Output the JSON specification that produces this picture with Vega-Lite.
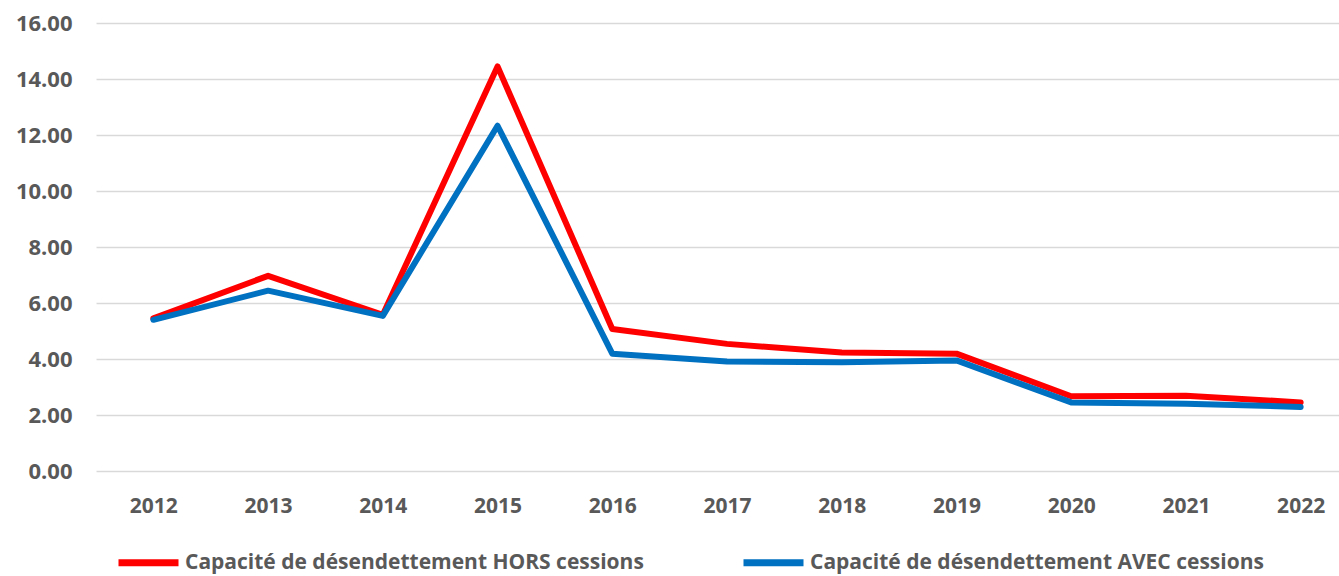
{
  "$schema": "https://vega.github.io/schema/vega-lite/v6.json",
  "autosize": "none",
  "padding": {"left": 96, "top": 23, "right": 0, "bottom": 105},
  "width": 1262,
  "height": 448,
  "background": "white",
  "config": {
    "view": {"stroke": null},
    "font": "Open Sans"
  },
  "data": {
    "values": [
      {"year": "2012", "serie": "Capacité de désendettement HORS cessions", "value": 5.45},
      {"year": "2013", "serie": "Capacité de désendettement HORS cessions", "value": 6.97},
      {"year": "2014", "serie": "Capacité de désendettement HORS cessions", "value": 5.58},
      {"year": "2015", "serie": "Capacité de désendettement HORS cessions", "value": 14.45},
      {"year": "2016", "serie": "Capacité de désendettement HORS cessions", "value": 5.07},
      {"year": "2017", "serie": "Capacité de désendettement HORS cessions", "value": 4.54},
      {"year": "2018", "serie": "Capacité de désendettement HORS cessions", "value": 4.23},
      {"year": "2019", "serie": "Capacité de désendettement HORS cessions", "value": 4.19},
      {"year": "2020", "serie": "Capacité de désendettement HORS cessions", "value": 2.67},
      {"year": "2021", "serie": "Capacité de désendettement HORS cessions", "value": 2.69},
      {"year": "2022", "serie": "Capacité de désendettement HORS cessions", "value": 2.45},
      {"year": "2012", "serie": "Capacité de désendettement AVEC cessions", "value": 5.4},
      {"year": "2013", "serie": "Capacité de désendettement AVEC cessions", "value": 6.44},
      {"year": "2014", "serie": "Capacité de désendettement AVEC cessions", "value": 5.54},
      {"year": "2015", "serie": "Capacité de désendettement AVEC cessions", "value": 12.33},
      {"year": "2016", "serie": "Capacité de désendettement AVEC cessions", "value": 4.19},
      {"year": "2017", "serie": "Capacité de désendettement AVEC cessions", "value": 3.91},
      {"year": "2018", "serie": "Capacité de désendettement AVEC cessions", "value": 3.88},
      {"year": "2019", "serie": "Capacité de désendettement AVEC cessions", "value": 3.95},
      {"year": "2020", "serie": "Capacité de désendettement AVEC cessions", "value": 2.45},
      {"year": "2021", "serie": "Capacité de désendettement AVEC cessions", "value": 2.4},
      {"year": "2022", "serie": "Capacité de désendettement AVEC cessions", "value": 2.29}
    ]
  },
  "mark": {"type": "line", "strokeWidth": 6, "strokeJoin": "round", "strokeCap": "round"},
  "encoding": {
    "x": {
      "field": "year",
      "type": "ordinal",
      "scale": {"type": "point", "padding": 0.5},
      "axis": {
        "title": null,
        "labelAngle": 0,
        "domain": false,
        "ticks": false,
        "grid": false,
        "labelFontSize": 21,
        "labelFontWeight": "bold",
        "labelColor": "#595959",
        "labelPadding": 24
      }
    },
    "y": {
      "field": "value",
      "type": "quantitative",
      "scale": {"domain": [0, 16], "nice": false},
      "axis": {
        "title": null,
        "values": [0, 2, 4, 6, 8, 10, 12, 14, 16],
        "format": ".2f",
        "domain": false,
        "ticks": false,
        "grid": true,
        "gridColor": "#D9D9D9",
        "gridWidth": 1.5,
        "labelFontSize": 22,
        "labelFontWeight": "bold",
        "labelColor": "#595959",
        "labelPadding": 24
      }
    },
    "color": {
      "field": "serie",
      "type": "nominal",
      "sort": ["Capacité de désendettement HORS cessions", "Capacité de désendettement AVEC cessions"],
      "scale": {
        "domain": ["Capacité de désendettement HORS cessions", "Capacité de désendettement AVEC cessions"],
        "range": ["#FF0000", "#0070C0"]
      },
      "legend": {
        "title": null,
        "orient": "none",
        "direction": "horizontal",
        "legendX": 19,
        "legendY": 506,
        "symbolType": "stroke",
        "symbolSize": 3600,
        "symbolStrokeWidth": 7,
        "labelFontSize": 21,
        "labelFontWeight": "bold",
        "labelColor": "#595959",
        "labelLimit": 0,
        "labelOffset": 3,
        "gridAlign": "all",
        "columnPadding": 85
      }
    }
  }
}
